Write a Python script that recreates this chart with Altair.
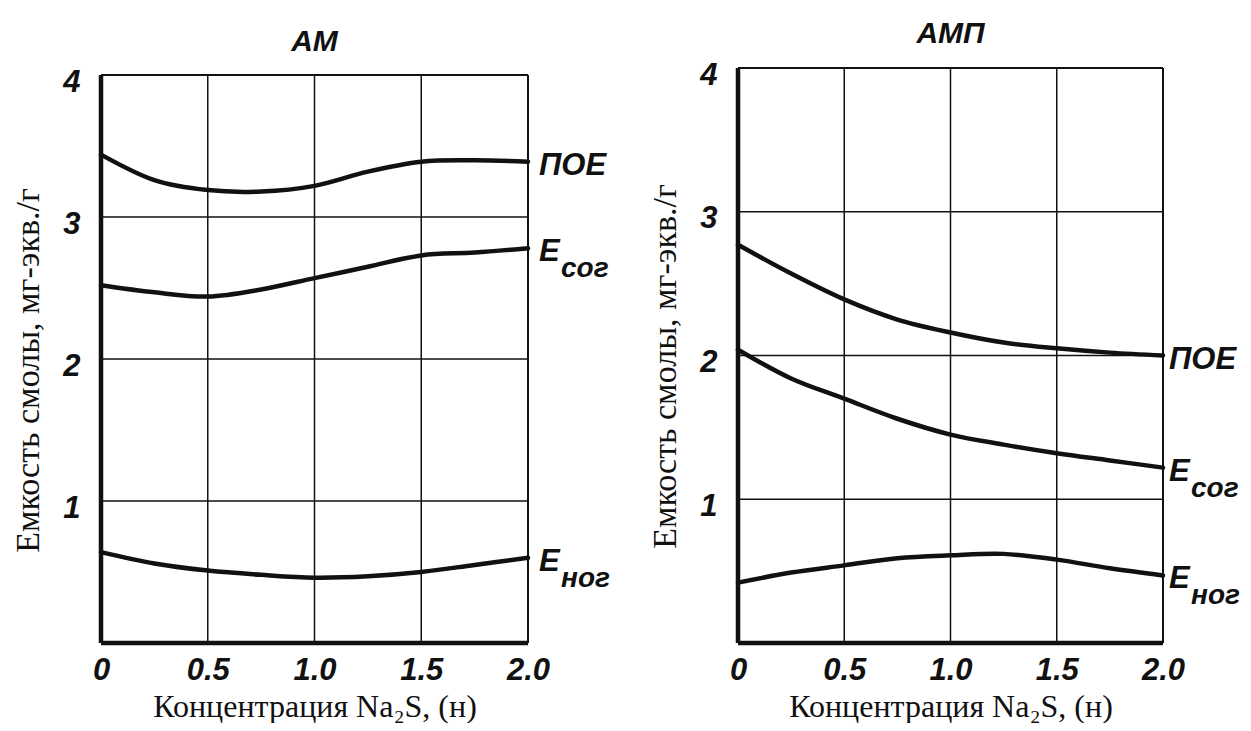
import altair as alt
import pandas as pd

# ---- data ----
conc = [0, 0.25, 0.5, 0.75, 1.0, 1.25, 1.5, 1.75, 2.0]
x_ticks = [0, 0.5, 1.0, 1.5, 2.0]
y_ticks = [1, 2, 3, 4]
y_range = [0, 4]
series = ["ПОЕ", "Есог", "Еног"]
label_main = ["ПОЕ", "Е", "Е"]
label_sub = ["", "сог", "ног"]

am_poe = [3.44, 3.26, 3.19, 3.18, 3.22, 3.32, 3.39, 3.40, 3.39]
am_ecor = [2.52, 2.47, 2.44, 2.49, 2.57, 2.65, 2.73, 2.75, 2.78]
am_enor = [0.64, 0.56, 0.51, 0.48, 0.46, 0.47, 0.50, 0.55, 0.60]

amp_poe = [2.77, 2.57, 2.39, 2.25, 2.16, 2.09, 2.05, 2.02, 2.00]
amp_ecor = [2.04, 1.84, 1.70, 1.56, 1.45, 1.38, 1.32, 1.27, 1.22]
amp_enor = [0.42, 0.49, 0.54, 0.59, 0.61, 0.62, 0.58, 0.52, 0.47]

x_title = "Концентрация Na₂S, (н)"
y_title = "Емкость смолы, мг-экв./г"

SANS = "Liberation Sans"
SERIF = "Liberation Serif"
INK = "#111111"


def panel(title, vals, width, y_dom_top, title_offset, label_dx, title_y):
    xs = alt.Scale(domain=[x_ticks[0], x_ticks[-1]], nice=False, zero=False)
    ys = alt.Scale(domain=[y_range[0], y_dom_top], nice=False)
    xax = alt.Axis(
        values=x_ticks,
        labelExpr="datum.value == 0 ? '0' : format(datum.value, '.1f')",
        title=x_title, labelFlush=False, domain=False, grid=False, ticks=False,
    )
    yax = alt.Axis(
        values=y_ticks, format="d", title=y_title, labelOffset=7,
        domain=False, grid=False, ticks=False, titleY=title_y,
    )
    X = alt.X("c:Q", scale=xs, axis=xax)
    Y = alt.Y("v:Q", scale=ys, axis=yax)

    # curves
    rows = []
    for s, v in zip(series, vals):
        for xx, yy in zip(conc, v):
            rows.append({"c": xx, "v": yy, "s": s})
    df = pd.DataFrame(rows)

    # grid / frame rules, built from the tick lists
    vrules = pd.DataFrame({"c": x_ticks, "v": [y_range[0]] * len(x_ticks),
                           "v2": [y_range[1]] * len(x_ticks)})
    hrules = pd.DataFrame({"v": [y_range[0]] + y_ticks,
                           "c": [x_ticks[0]] * (len(y_ticks) + 1),
                           "c2": [x_ticks[-1]] * (len(y_ticks) + 1)})
    v_inner = vrules.iloc[1:-1]
    v_far = vrules.iloc[-1:]
    v_axis = vrules.iloc[:1]
    h_inner = hrules.iloc[1:-1]
    h_far = hrules.iloc[-1:]
    h_axis = hrules.iloc[:1]

    def vr(d, w):
        return alt.Chart(d).mark_rule(color=INK, strokeWidth=w).encode(x=X, y=Y, y2="v2:Q")

    def hr(d, w):
        return alt.Chart(d).mark_rule(color=INK, strokeWidth=w).encode(x=X, x2="c2:Q", y=Y)

    lab = pd.DataFrame({
        "c": [conc[-1]] * len(vals),
        "v": [v[-1] for v in vals],
        "main": label_main,
        "sub": label_sub,
    })

    lines = alt.Chart(df).mark_line(
        color=INK, strokeWidth=4.5, interpolate="cardinal", strokeCap="round"
    ).encode(x=X, y=Y, detail="s:N")
    main = alt.Chart(lab).mark_text(
        align="left", baseline="middle", dx=label_dx, dy=4,
        font=SANS, fontSize=31, fontStyle="italic", fontWeight="bold", color=INK,
    ).encode(x=X, y=Y, text="main:N")
    sub = alt.Chart(lab).mark_text(
        align="left", baseline="middle", dx=label_dx + 22, dy=21,
        font=SANS, fontSize=28, fontStyle="italic", fontWeight="bold", color=INK,
    ).encode(x=X, y=Y, text="sub:N")

    return alt.layer(
        vr(v_inner, 1.5), hr(h_inner, 1.5), vr(v_far, 2), hr(h_far, 2),
        lines, main, sub, vr(v_axis, 4.5), hr(h_axis, 4.5),
    ).properties(
        width=width, height=575,
        title=alt.TitleParams(title, offset=title_offset),
    )


left = panel("АМ", [am_poe, am_ecor, am_enor], 427, 4.05, 9, 11, 302)
right = panel("АМП", [amp_poe, amp_ecor, amp_enor], 425, 4.0, 10, 6, 298)

chart = (
    alt.hconcat(left, right, spacing=37)
    .properties(padding={"left": 3, "top": 10, "right": 0, "bottom": 0})
    .configure(background="white")
    .configure_view(stroke="transparent")
    .configure_axis(
        labelFont=SANS, labelFontSize=31, labelFontStyle="italic",
        labelFontWeight="bold", labelColor=INK,
        titleFont=SERIF, titleFontWeight="normal", titleColor=INK,
    )
    .configure_axisX(labelPadding=12, titleFontSize=32, titlePadding=6)
    .configure_axisY(labelPadding=21, titleFontSize=34, titlePadding=17)
    .configure_title(font=SANS, fontSize=30, fontStyle="italic",
                     fontWeight="bold", color=INK)
)

chart.save("out.html", embed_options={"renderer": "svg", "actions": False})
